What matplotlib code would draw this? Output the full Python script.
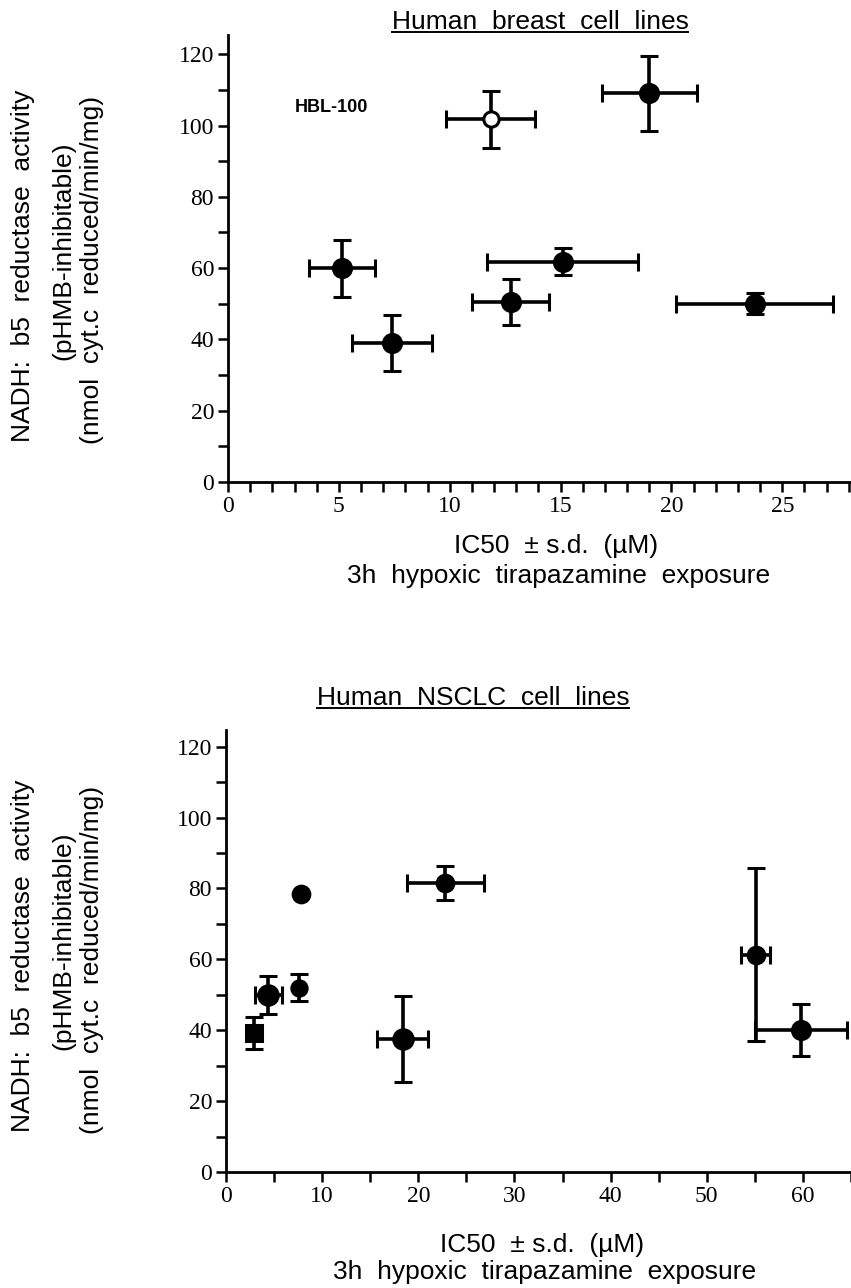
import matplotlib.pyplot as plt
from matplotlib.ticker import MultipleLocator
from matplotlib.lines import Line2D

# Human breast cell lines: IC50 (uM) and NADH:b5 reductase activity
breast_ic50 = [5.15, 7.4, 12.75, 15.1, 19.0, 23.75]
breast_ic50_sd = [1.5, 1.8, 1.75, 3.4, 2.15, 3.55]
breast_activity = [60.0, 39.0, 50.5, 61.8, 109.0, 50.0]
breast_activity_sd = [8.0, 7.8, 6.5, 3.8, 10.5, 3.0]

# HBL-100 (open symbol)
hbl_ic50 = [11.85]
hbl_ic50_sd = [2.0]
hbl_activity = [101.8]
hbl_activity_sd = [8.0]

# Human NSCLC cell lines
nsclc_ic50 = [2.9, 4.4, 7.55, 7.8, 18.4, 22.8, 55.1, 59.8]
nsclc_ic50_sd = [0, 1.4, 0, 0, 2.65, 4.0, 1.5, 4.8]
nsclc_activity = [39.2, 50.0, 52.0, 78.5, 37.5, 81.5, 61.3, 40.0]
nsclc_activity_sd = [4.6, 5.4, 3.8, 0, 12.2, 4.8, 24.4, 7.3]
nsclc_marker = ['s', 'o', 'o', 'o', 'o', 'o', 'o', 'o']
nsclc_msize = [11, 14, 11, 12, 14, 12, 12, 13]

SANS = 'Liberation Sans'
plt.rcParams['font.family'] = 'Liberation Serif'

W, H = 851, 1288
fig = plt.figure(figsize=(W / 100, H / 100), dpi=100)


def px(x, y):
    return x / W, 1 - y / H


def setup_axes(left, top, bottom, xmax, ymax, xmaj, xmin):
    x0, y0 = px(left, bottom)
    _, y1 = px(left, top)
    ax = fig.add_axes([x0, y0, 1.0 - x0, y1 - y0])
    ax.set_xlim(0, xmax)
    ax.set_ylim(0, ymax)
    for s in ['top', 'right']:
        ax.spines[s].set_visible(False)
    for s in ['left', 'bottom']:
        ax.spines[s].set_linewidth(2.0)
    ax.xaxis.set_major_locator(MultipleLocator(xmaj))
    ax.xaxis.set_minor_locator(MultipleLocator(xmin))
    ax.yaxis.set_major_locator(MultipleLocator(20))
    ax.yaxis.set_minor_locator(MultipleLocator(10))
    ax.tick_params(which='both', direction='out', length=7, width=1.8)
    ax.tick_params(axis='both', labelsize=17, pad=3)
    ax.set_clip_on(False)
    return ax


def draw_point(ax, x, xe, y, ye, marker='o', ms=13, face='black'):
    ax.errorbar([x], [y], xerr=[xe] if xe else None, yerr=[ye] if ye else None,
                fmt=marker, ms=ms, mfc=face, mec='black', mew=2.2,
                ecolor='black', elinewidth=2.6, capsize=6.5, capthick=2.6,
                clip_on=False, zorder=3)


def underlined_title(xc, ybase, s):
    x, y = px(xc, ybase)
    t = fig.text(x, y, s, ha='center', va='baseline', family=SANS, fontsize=19)
    fig.canvas.draw()
    bb = t.get_window_extent().transformed(fig.transFigure.inverted())
    _, yu = px(xc, ybase + 3)
    fig.add_artist(Line2D([bb.x0, bb.x1], [yu, yu], color='black', lw=1.4,
                          transform=fig.transFigure))


def y_label(xs, yc):
    lines = ['NADH:  b5  reductase  activity', '(pHMB-inhibitable)',
             '(nmol  cyt.c  reduced/min/mg)']
    for xi, off, s in zip(xs, [0, -15, 4], lines):
        x, y = px(xi, yc + off)
        fig.text(x, y, s, rotation=90, ha='center', va='center', family=SANS, fontsize=19)


def x_label(xc, y1, y2):
    x, y = px(xc, y1)
    fig.text(x, y, 'IC50  \u00b1 s.d.  (\u00b5M)', ha='center', va='center',
             family=SANS, fontsize=19)
    x, y = px(xc + 3, y2)
    fig.text(x, y, '3h  hypoxic  tirapazamine  exposure', ha='center', va='center',
             family=SANS, fontsize=19)


# top panel: breast
ax1 = setup_axes(228, 35, 482, 28.1, 125.4, 5, 1)
for x, xe, y, ye in zip(breast_ic50, breast_ic50_sd, breast_activity, breast_activity_sd):
    draw_point(ax1, x, xe, y, ye)
for x, xe, y, ye in zip(hbl_ic50, hbl_ic50_sd, hbl_activity, hbl_activity_sd):
    draw_point(ax1, x, xe, y, ye, ms=11, face='white')
ax1.text(3.0, 105.2, 'HBL-100', ha='left', va='center', family=SANS,
         fontsize=13, fontweight='bold')

# bottom panel: NSCLC
ax2 = setup_axes(226, 730, 1172, 65.0, 124.7, 10, 5)
for x, xe, y, ye, m, ms in zip(nsclc_ic50, nsclc_ic50_sd, nsclc_activity,
                               nsclc_activity_sd, nsclc_marker, nsclc_msize):
    draw_point(ax2, x, xe, y, ye, marker=m, ms=ms)

underlined_title(540, 29, 'Human  breast  cell  lines')
underlined_title(473, 705, 'Human  NSCLC  cell  lines')
y_label([23, 63, 92], 266)
y_label([23, 63, 92], 956)
x_label(556, 546, 576)
x_label(542, 1245, 1272)

fig.savefig('out.png', dpi=100)
